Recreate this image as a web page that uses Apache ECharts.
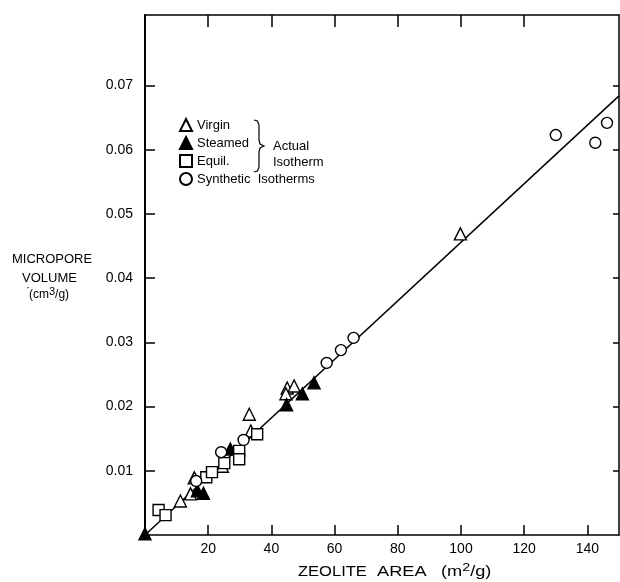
<!DOCTYPE html>
<html><head><meta charset="utf-8">
<script src="https://cdn.jsdelivr.net/npm/echarts@6/dist/echarts.min.js"></script>
<style>html,body{margin:0;padding:0;background:#fff}#c{width:620px;height:582px}</style>
</head><body><div id="c"></div>
<script>
const xTicks = [20, 40, 60, 80, 100, 120, 140];
const yTicks = [0.01, 0.02, 0.03, 0.04, 0.05, 0.06, 0.07];
const seriesNames = ['Virgin', 'Steamed', 'Equil.', 'Synthetic  Isotherms'];
const virgin = [[11.2,0.0053],[14.4,0.0064],[15.6,0.0089],[24.5,0.0107],[33.0,0.0188],[33.5,0.0162],[45.0,0.0229],[47.2,0.0232],[44.6,0.0220],[99.8,0.0469]];
const steamed = [[0,0.0002],[16.6,0.0069],[18.5,0.0065],[27.0,0.0134],[44.8,0.0203],[49.8,0.0220],[53.5,0.0237]];
const equil = [[4.3,0.0039],[6.5,0.0031],[19.4,0.0090],[21.2,0.0098],[25.1,0.0112],[29.8,0.0131],[29.8,0.0118],[35.5,0.0157]];
const synthetic = [[16.2,0.0084],[24.1,0.0129],[31.2,0.0148],[57.5,0.0268],[62.0,0.0288],[66.0,0.0307],[130.0,0.0623],[142.5,0.0611],[146.2,0.0642]];
const fitLine = [[0,0],[150,0.0684]];

const FONT = '"Liberation Sans", Arial, sans-serif';
const chart = echarts.init(document.getElementById('c'), null, {renderer:'canvas'});
const axisLine = {show:true, onZero:false, lineStyle:{color:'#000', width:1.5}};
const tickStyle = {color:'#000', width:1.5};
function scat(name, data, symbol, size, fill){
  return {type:'scatter', name, data, symbol, symbolSize:size, z:3,
    itemStyle:{color:fill, borderColor:'#000', borderWidth:1.4, opacity:1}};
}
chart.setOption({
  animation:false,
  backgroundColor:'#fff',
  textStyle:{fontFamily:FONT, color:'#000'},
  grid:{left:145, right:1, top:15, bottom:47, containLabel:false},
  legend:{
    data:seriesNames, orient:'vertical', left:179, top:118, padding:0,
    itemWidth:12, itemHeight:12, itemGap:4,
    textStyle:{fontFamily:FONT, fontSize:13, color:'#000'}
  },
  xAxis:[
    {type:'value', min:0, max:150, interval:20, position:'bottom',
     axisLine, axisTick:{inside:true, length:10, lineStyle:tickStyle, customValues:xTicks},
     axisLabel:{color:'#000', fontSize:14, fontFamily:FONT, margin:7, customValues:xTicks,
       formatter:v => String(v)},
     splitLine:{show:false}},
    {type:'value', min:0, max:150, interval:20, position:'top',
     axisLine, axisTick:{inside:true, length:12, lineStyle:tickStyle, customValues:xTicks.slice(0,6)},
     axisLabel:{show:false}, splitLine:{show:false}}
  ],
  yAxis:[
    {type:'value', min:0, max:0.081, interval:0.01, position:'left',
     axisLine:{show:true, onZero:false, lineStyle:{color:'#000', width:2}},
     axisTick:{inside:true, length:10, lineStyle:tickStyle, customValues:yTicks},
     axisLabel:{color:'#000', fontSize:14, fontFamily:FONT, margin:12, customValues:yTicks,
       formatter:v => v.toFixed(2)},
     splitLine:{show:false}},
    {type:'value', min:0, max:0.081, interval:0.01, position:'right',
     axisLine, axisTick:{inside:true, length:6, lineStyle:tickStyle, customValues:yTicks},
     axisLabel:{show:false}, splitLine:{show:false}}
  ],
  series:[
    {type:'line', name:'fit', data:fitLine, symbol:'none', z:1,
     lineStyle:{color:'#000', width:1.5}},
    scat(seriesNames[0], virgin, 'triangle', 12, '#fff'),
    scat(seriesNames[1], steamed, 'triangle', 12, '#000'),
    scat(seriesNames[2], equil, 'rect', 11, '#fff'),
    scat(seriesNames[3], synthetic, 'circle', 11, '#fff')
  ],
  graphic:[
    {type:'polyline', shape:{points:[[254,120],[257.5,121],[259,125],[259,140],[260,144],[264,146],[260,148],[259,152],[259,167],[257.5,171],[254,172]]},
     style:{fill:null, stroke:'#000', lineWidth:1.2}},
    {type:'text', left:273, top:140, style:{text:'Actual', font:'13px '+FONT, fill:'#000'}},
    {type:'text', left:273, top:156, style:{text:'Isotherm', font:'13px '+FONT, fill:'#000'}},
    {type:'text', left:12, top:253, style:{text:'MICROPORE', font:'13px '+FONT, fill:'#000'}},
    {type:'text', left:22, top:272, style:{text:'VOLUME', font:'13px '+FONT, fill:'#000'}},
    {type:'text', left:26, top:282, style:{text:'·', font:'12px '+FONT, fill:'#000'}},
    {type:'text', left:29, top:286, style:{text:'(cm{sup|3}/g)', font:'12px '+FONT, fill:'#000',
      rich:{sup:{fontSize:11, fontFamily:FONT, padding:[0,0,7,0]}}}},
    {type:'text', x:298, y:572, scaleX:1.18, style:{text:'ZEOLITE', font:'14px '+FONT, fill:'#000', verticalAlign:'middle'}},
    {type:'text', x:377, y:572, scaleX:1.3, style:{text:'AREA', font:'14px '+FONT, fill:'#000', verticalAlign:'middle'}},
    {type:'text', x:441, y:572, scaleX:1.3, style:{text:'(m{sup|2}/g)', font:'14px '+FONT, fill:'#000', verticalAlign:'middle',
      rich:{sup:{fontSize:11, fontFamily:FONT, padding:[0,0,8,0]}}}}
  ]
});
</script>
</body></html>
